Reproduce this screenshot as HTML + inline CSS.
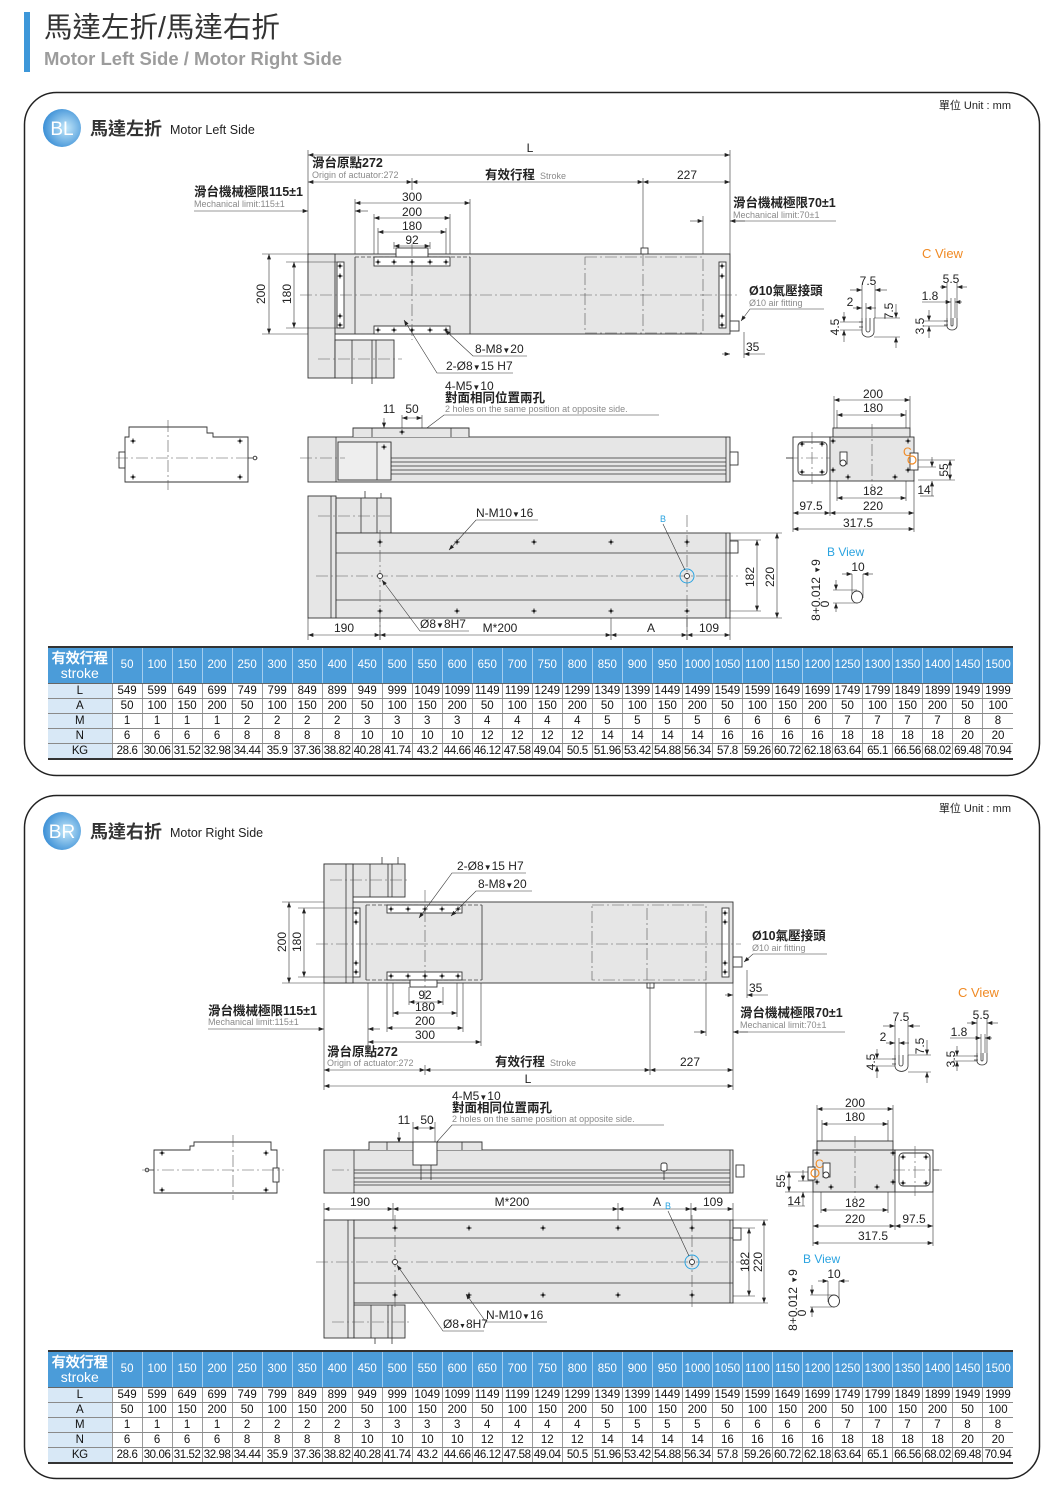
<!DOCTYPE html>
<html><head><meta charset="utf-8">
<style>
html,body{margin:0;padding:0}
body{width:1060px;height:1499px;background:#fff;position:relative;overflow:hidden;font-family:"Liberation Sans","Noto Sans CJK TC",sans-serif}
svg{position:absolute;left:0;top:0}
.o{fill:#e6e6e6;stroke:#333;stroke-width:.9}
.w{fill:#fff;stroke:#333;stroke-width:.9}
.l{fill:none;stroke:#333;stroke-width:.8}
.d{fill:none;stroke:#333;stroke-width:.6}
.c{fill:none;stroke:#555;stroke-width:.6;stroke-dasharray:12 3 2 3}
.h{fill:none;stroke:#444;stroke-width:.7;stroke-dasharray:4 2}
.dd{marker-start:url(#a);marker-end:url(#a)}
.de{marker-end:url(#a)}
.n{font-family:"Liberation Sans",sans-serif;font-size:12px;fill:#222}
.cb{font-family:"Liberation Sans","Noto Sans CJK TC",sans-serif;font-size:12.5px;font-weight:bold;fill:#222}
.g{font-family:"Liberation Sans",sans-serif;font-size:9px;fill:#8a8a8a}
.cv{font-family:"Liberation Sans",sans-serif;font-size:13px;fill:#f08a24}
.bv{font-family:"Liberation Sans",sans-serif;font-size:12px;fill:#2aa3e0}
.tb{position:absolute;left:48px;width:965px;border-collapse:collapse;table-layout:fixed;font-family:"Liberation Sans",sans-serif;font-size:11.5px;color:#111}
.tb td{padding:0;text-align:center;white-space:nowrap;overflow:hidden;border-left:1px solid #9a9a9a;border-bottom:1px solid #8a8a8a;height:14px;line-height:14px}
.tb tr.h td{background:#4b9cd9;color:#fff;height:35px;line-height:35px;border-left:1px solid #a3cdee;border-top:2px solid #333;border-bottom:1px solid #666}
.tb td.f{background:#d8e8f6;border-left:none}
.tb tr.h td.f{background:#4b9cd9;font-size:14px;line-height:15px;border-left:none}
.tb tr.k td{border-bottom:2px solid #333;letter-spacing:-.4px}
</style></head><body>
<svg width="1060" height="1499" viewBox="0 0 1060 1499" xmlns="http://www.w3.org/2000/svg">
<defs>
<marker id="a" viewBox="0 0 8 6" refX="8" refY="3" markerWidth="7" markerHeight="4" markerUnits="userSpaceOnUse" orient="auto-start-reverse"><path d="M0,0L8,3L0,6z" fill="#222"/></marker>
<radialGradient id="bg" cx="0.6" cy="0.5" r="0.6"><stop offset="0" stop-color="#c4e8fa"/><stop offset="1" stop-color="#3b8fd6"/></radialGradient>
<g id="h"><circle r="1.5" fill="#222"/><path d="M-3,0h6M0,-3v6" stroke="#222" stroke-width=".5"/></g>
</defs>

<!-- HEADER -->
<rect x="24" y="12" width="6" height="60" fill="#3d97d9"/>
<text x="44" y="37" font-size="28.5" fill="#333" font-family="Liberation Sans,Noto Sans CJK TC,sans-serif">馬達左折/馬達右折</text>
<text x="44" y="65" font-size="18.5" font-weight="bold" fill="#9c9c9c" font-family="Liberation Sans,sans-serif">Motor Left Side / Motor Right Side</text>

<!-- ================= PANEL 1 ================= -->
<rect x="24.5" y="92.5" width="1015" height="683" rx="32" fill="none" stroke="#222" stroke-width="1.5"/>
<circle cx="62" cy="128" r="19" fill="url(#bg)"/>
<text x="62" y="135" font-size="19" fill="#fff" text-anchor="middle" font-family="Liberation Sans,sans-serif">BL</text>
<text x="90" y="135" font-size="18" font-weight="bold" fill="#333" font-family="Liberation Sans,Noto Sans CJK TC,sans-serif">馬達左折</text>
<text x="170" y="134" font-size="12.5" fill="#222" font-family="Liberation Sans,sans-serif">Motor Left Side</text>
<text x="1011" y="109" text-anchor="end" font-size="11" fill="#222" font-family="Liberation Sans,Noto Sans CJK TC,sans-serif">單位 Unit : mm</text>

<!-- top view dims -->
<path class="d" d="M308,150V254M730,150V254M412,178V190M643,178V248M355,199V257M470,199V257M374,214V257M450,214V257M378,228V257M446,228V257M394,242V249M430,242V249M703,216V262"/>
<line class="d dd" x1="308" y1="155" x2="730" y2="155"/>
<line class="d dd" x1="308" y1="182" x2="412" y2="182"/>
<line class="d dd" x1="412" y1="182" x2="643" y2="182"/>
<line class="d dd" x1="643" y1="182" x2="730" y2="182"/>
<line class="d de" x1="194" y1="211" x2="308" y2="211"/>
<line class="d de" x1="368" y1="211" x2="355" y2="211"/>
<line class="d dd" x1="355" y1="203" x2="470" y2="203"/>
<line class="d dd" x1="374" y1="218" x2="450" y2="218"/>
<line class="d dd" x1="378" y1="232" x2="446" y2="232"/>
<line class="d dd" x1="394" y1="246" x2="430" y2="246"/>
<line class="d de" x1="690" y1="221" x2="703" y2="221"/>
<line class="d de" x1="745" y1="221" x2="730" y2="221"/>
<line class="d" x1="733" y1="221" x2="836" y2="221"/>
<text class="n" x="530" y="152" text-anchor="middle">L</text>
<text class="cb" x="312" y="167">滑台原點272</text>
<text class="g" x="312" y="178">Origin of actuator:272</text>
<text class="cb" x="485" y="179">有效行程</text><text class="g" x="540" y="179">Stroke</text>
<text class="n" x="687" y="179" text-anchor="middle">227</text>
<text class="cb" x="194" y="196">滑台機械極限115±1</text>
<text class="g" x="194" y="207">Mechanical limit:115±1</text>
<text class="n" x="412" y="201" text-anchor="middle">300</text>
<text class="n" x="412" y="216" text-anchor="middle">200</text>
<text class="n" x="412" y="230" text-anchor="middle">180</text>
<text class="n" x="412" y="244" text-anchor="middle">92</text>
<text class="cb" x="733" y="207">滑台機械極限70±1</text>
<text class="g" x="733" y="218">Mechanical limit:70±1</text>

<!-- top view body -->
<rect class="o" x="308" y="254" width="422" height="80"/>
<rect class="o" x="308" y="254" width="27" height="124"/>
<rect class="o" x="335" y="340" width="59" height="38"/>
<path class="l" d="M352,340V378M372,340V378M376,340V378M352,378v6M372,378v6"/>
<rect class="w" x="337" y="262" width="7" height="66"/>
<path class="l" d="M355,257V334M470,257V334"/>
<path class="h" d="M355,257H470M355,334H470"/>
<rect class="w" x="374" y="257" width="76" height="9"/>
<rect class="w" x="374" y="326" width="76" height="8"/>
<rect class="w" x="396" y="248" width="32" height="9"/>
<rect class="c" x="585" y="257" width="118" height="76"/>
<rect class="w" x="719" y="262" width="7" height="66"/>
<rect class="w" x="730" y="321" width="9" height="10"/>
<rect class="w" x="641" y="248" width="7" height="6"/>
<path class="c" d="M300,295H738M412,244V340M643,254V334M318,359H402"/>
<use href="#h" x="378" y="262"/><use href="#h" x="394" y="262"/><use href="#h" x="412" y="262"/><use href="#h" x="430" y="262"/><use href="#h" x="446" y="262"/>
<use href="#h" x="378" y="330"/><use href="#h" x="394" y="330"/><use href="#h" x="412" y="330"/><use href="#h" x="430" y="330"/><use href="#h" x="446" y="330"/>
<use href="#h" x="340" y="266"/><use href="#h" x="340" y="276"/><use href="#h" x="340" y="316"/><use href="#h" x="340" y="325"/>
<use href="#h" x="722" y="266"/><use href="#h" x="722" y="276"/><use href="#h" x="722" y="316"/><use href="#h" x="722" y="325"/>
<!-- left dims -->
<path class="d" d="M262,254H308M286,262H337M286,328H337M262,334H308"/>
<line class="d dd" x1="269" y1="254" x2="269" y2="334"/>
<line class="d dd" x1="294" y1="262" x2="294" y2="328"/>
<text class="n" transform="translate(265,294) rotate(-90)" text-anchor="middle">200</text>
<text class="n" transform="translate(291,294) rotate(-90)" text-anchor="middle">180</text>
<!-- leaders -->
<path class="d de" d="M527,356H473L445,330"/>
<path class="d de" d="M513,373H437L404,320"/>
<text class="n" x="475" y="353">8-M8<tspan font-size="8">▼</tspan>20</text>
<text class="n" x="446" y="370">2-Ø8<tspan font-size="8">▼</tspan>15 H7</text>
<!-- air fitting -->
<text class="cb" x="749" y="295">Ø10氣壓接頭</text>
<text class="g" x="749" y="306">Ø10 air fitting</text>
<path class="d de" d="M824,309H750L741,321"/>
<path class="d" d="M744,332V358"/>
<line class="d de" x1="765" y1="354" x2="744" y2="354"/>
<line class="d de" x1="722" y1="354" x2="730" y2="354"/>
<text class="n" x="746" y="351">35</text>

<!-- C View panel1 -->
<text class="cv" x="922" y="258">C View</text>
<path class="l" d="M862,318V332A6,5 0 0 0 874,332V318M866,318V330A2,2 0 0 0 870,330V318M859,322h4M859,327h4"/>
<path class="l" d="M947,318V326A5,4 0 0 0 957,326V318M951,318V325A1,1 0 0 0 953,325V318M944,321h4M944,325h4"/>
<path class="d" d="M862,285V318M875,285V318M866,303V318M874,337H900M874,318H900M840,322H862M840,330H862M947,283V318M957,283V318M951,298V318M955,298V318M924,321H947M924,326H947"/>
<line class="d de" x1="850" y1="290" x2="862" y2="290"/><line class="d de" x1="887" y1="290" x2="875" y2="290"/>
<line class="d de" x1="853" y1="308" x2="862" y2="308"/><line class="d de" x1="876" y1="308" x2="866" y2="308"/>
<line class="d de" x1="896" y1="304" x2="896" y2="318"/><line class="d de" x1="896" y1="348" x2="896" y2="337"/>
<line class="d de" x1="844" y1="312" x2="844" y2="322"/><line class="d de" x1="844" y1="342" x2="844" y2="330"/>
<line class="d de" x1="940" y1="287" x2="947" y2="287"/><line class="d de" x1="967" y1="287" x2="957" y2="287"/>
<line class="d de" x1="922" y1="302" x2="951" y2="302"/><line class="d de" x1="962" y1="302" x2="955" y2="302"/>
<line class="d de" x1="929" y1="310" x2="929" y2="321"/><line class="d de" x1="929" y1="338" x2="929" y2="326"/>
<text class="n" x="868" y="285" text-anchor="middle">7.5</text>
<text class="n" x="850" y="306" text-anchor="middle">2</text>
<text class="n" transform="translate(893,311) rotate(-90)" text-anchor="middle">7.5</text>
<text class="n" transform="translate(839,327) rotate(-90)" text-anchor="middle">4.5</text>
<text class="n" x="951" y="283" text-anchor="middle">5.5</text>
<text class="n" x="930" y="300" text-anchor="middle">1.8</text>
<text class="n" transform="translate(924,326) rotate(-90)" text-anchor="middle">3.5</text>

<!-- middle row panel1 -->
<text class="n" x="445" y="390">4-M5<tspan font-size="8">▼</tspan>10</text>
<text class="cb" x="445" y="402">對面相同位置兩孔</text>
<text class="g" x="445" y="412">2 holes on the same position at opposite side.</text>
<path class="d de" d="M659,415H444L411,440"/>
<text class="n" x="389" y="413" text-anchor="middle">11</text>
<text class="n" x="412" y="413" text-anchor="middle">50</text>
<path class="d" d="M402,415V437M422,415V437"/>
<line class="d dd" x1="402" y1="418" x2="422" y2="418"/>
<line class="d de" x1="384" y1="418" x2="384" y2="428"/><line class="d de" x1="384" y1="448" x2="384" y2="437"/>
<!-- left end view -->
<path class="w" d="M125,437H129V427H207V433H213V437H248V482H125Z"/>
<rect class="w" x="119" y="452" width="6" height="16"/>
<path class="l" d="M248,458h6"/><circle cx="255" cy="458" r="1.8" class="w"/>
<path class="c" d="M168,420V490M116,458H258"/>
<use href="#h" x="133" y="441"/><use href="#h" x="240" y="441"/><use href="#h" x="133" y="477"/><use href="#h" x="240" y="477"/>
<!-- side view -->
<rect class="o" x="308" y="437" width="422" height="45"/>
<path class="o" d="M353,437V428H469V437"/>
<path class="l" d="M372,428V437M451,428V437M336,437V482M391,442V480M377,442V480M726,437V482"/>
<rect class="w" x="338" y="442" width="53" height="38" style="fill:#eee"/>
<path class="l" d="M377,442V480M391,458H726M391,462H726M391,466H726M391,470H726M391,474H726"/>
<rect class="w" x="730" y="452" width="8" height="13"/>
<path class="c" d="M300,458H345"/>
<use href="#h" x="402" y="432"/><use href="#h" x="384" y="447"/>
<!-- right end view -->
<rect class="w" x="793" y="437" width="37" height="44"/>
<rect class="w" x="798" y="442" width="29" height="33" rx="4"/>
<rect class="o" x="830" y="437" width="84" height="44"/>
<rect class="o" x="833" y="428" width="77" height="9"/>
<path class="c" d="M812,432V486M786,458H830M872,424V486"/>
<path class="l" d="M786,458h7"/>
<rect class="w" x="840" y="452" width="7" height="12"/>
<circle cx="843" cy="463" r="3" class="w"/>
<rect class="w" x="910" y="453" width="8" height="17"/>
<circle cx="912" cy="460" r="4" fill="none" stroke="#f08a24" stroke-width="1.2"/>
<text x="903" y="456" font-size="12" fill="#f08a24" font-family="Liberation Sans,sans-serif">C</text>
<use href="#h" x="833" y="441"/><use href="#h" x="908" y="441"/><use href="#h" x="833" y="470"/><use href="#h" x="908" y="470"/><use href="#h" x="848" y="477"/><use href="#h" x="895" y="477"/>
<use href="#h" x="802" y="444"/><use href="#h" x="822" y="444"/><use href="#h" x="802" y="472"/><use href="#h" x="822" y="472"/>
<path class="d" d="M834,396V428M910,396V428M837,410V428M906,410V428M793,481V532M830,481V516M914,481V532M837,481V501M906,481V501M918,460H955M918,480H955M918,467H936"/>
<line class="d dd" x1="834" y1="400" x2="910" y2="400"/>
<line class="d dd" x1="837" y1="415" x2="906" y2="415"/>
<line class="d dd" x1="837" y1="498" x2="906" y2="498"/>
<line class="d dd" x1="793" y1="513" x2="830" y2="513"/>
<line class="d dd" x1="830" y1="513" x2="914" y2="513"/>
<line class="d dd" x1="793" y1="529" x2="914" y2="529"/>
<line class="d dd" x1="950" y1="460" x2="950" y2="480"/>
<line class="d de" x1="932" y1="496" x2="932" y2="481"/><line class="d de" x1="932" y1="457" x2="932" y2="467"/>
<path class="d" d="M920,496H934"/>
<text class="n" x="873" y="398" text-anchor="middle">200</text>
<text class="n" x="873" y="412" text-anchor="middle">180</text>
<text class="n" x="873" y="495" text-anchor="middle">182</text>
<text class="n" x="873" y="510" text-anchor="middle">220</text>
<text class="n" x="811" y="510" text-anchor="middle">97.5</text>
<text class="n" x="858" y="527" text-anchor="middle">317.5</text>
<text class="n" transform="translate(948,470) rotate(-90)" text-anchor="middle">55</text>
<text class="n" x="924" y="494" text-anchor="middle">14</text>

<!-- bottom view panel1 -->
<rect class="o" x="308" y="496" width="28" height="122"/>
<rect class="o" x="336" y="498" width="55" height="35"/>
<path class="l" d="M361,498V533M377,498V533M365,491v7M381,493v5"/>
<rect class="o" x="336" y="533" width="394" height="85"/>
<path class="l" d="M336,553H730M336,600H730M331,496V618M726,533V618"/>
<rect class="w" x="730" y="541" width="8" height="12"/>
<path class="c" d="M316,576H738M380,530V640M687,515V640M318,516H392"/>
<use href="#h" x="380" y="542"/><use href="#h" x="457" y="542"/><use href="#h" x="534" y="542"/><use href="#h" x="611" y="542"/><use href="#h" x="687" y="542"/>
<use href="#h" x="380" y="611"/><use href="#h" x="457" y="611"/><use href="#h" x="534" y="611"/><use href="#h" x="611" y="611"/><use href="#h" x="687" y="611"/>
<circle cx="380" cy="576" r="2.5" class="w"/>
<circle cx="687" cy="576" r="7" fill="none" stroke="#2aa3e0" stroke-width="1"/><circle cx="687" cy="576" r="2.5" class="w"/>
<text x="660" y="522" font-size="9" fill="#2aa3e0" font-family="Liberation Sans,sans-serif">B</text>
<path class="d" d="M663,524L685,570"/>
<text class="n" x="476" y="517">N-M10<tspan font-size="8">▼</tspan>16</text>
<path class="d de" d="M538,520H476L449,550"/>
<text class="n" x="420" y="628" font-size="11">Ø8<tspan font-size="8">▼</tspan>8H7</text>
<path class="d de" d="M469,631H420L382,580"/>
<path class="d" d="M308,618V640M380,618V640M611,618V640M687,618V640M730,618V640M730,533H782M730,618H782M730,540H761M730,611H761"/>
<line class="d dd" x1="308" y1="635" x2="380" y2="635"/>
<line class="d dd" x1="380" y1="635" x2="611" y2="635"/>
<line class="d dd" x1="611" y1="635" x2="687" y2="635"/>
<line class="d dd" x1="687" y1="635" x2="730" y2="635"/>
<text class="n" x="344" y="632" text-anchor="middle">190</text>
<text class="n" x="500" y="632" text-anchor="middle">M*200</text>
<text class="n" x="651" y="632" text-anchor="middle">A</text>
<text class="n" x="709" y="632" text-anchor="middle">109</text>
<line class="d dd" x1="757" y1="540" x2="757" y2="611"/>
<line class="d dd" x1="777" y1="533" x2="777" y2="618"/>
<text class="n" transform="translate(754,577) rotate(-90)" text-anchor="middle">182</text>
<text class="n" transform="translate(774,577) rotate(-90)" text-anchor="middle">220</text>
<!-- B view p1 -->
<text class="bv" x="827" y="556">B View</text>
<text class="n" x="858" y="571" text-anchor="middle">10</text>
<path class="d" d="M852,574V598M863,574V598M833,590H857M833,603H857"/>
<line class="d de" x1="842" y1="574" x2="852" y2="574"/><line class="d de" x1="873" y1="574" x2="863" y2="574"/>
<ellipse cx="857" cy="597" rx="5.5" ry="6" class="w"/>
<line class="d de" x1="836" y1="580" x2="836" y2="590"/><line class="d de" x1="836" y1="612" x2="836" y2="603"/>
<text class="n" font-size="11" transform="translate(820,590) rotate(-90)" text-anchor="middle">8+0.012 <tspan font-size="8">▼</tspan>9</text>
<text class="n" font-size="11" transform="translate(829,604) rotate(-90)" text-anchor="middle">0</text>

<!-- ================= PANEL 2 ================= -->
<rect x="24.5" y="795.5" width="1015" height="683" rx="32" fill="none" stroke="#222" stroke-width="1.5"/>
<circle cx="62" cy="831" r="19" fill="url(#bg)"/>
<text x="62" y="838" font-size="19" fill="#fff" text-anchor="middle" font-family="Liberation Sans,sans-serif">BR</text>
<text x="90" y="838" font-size="18" font-weight="bold" fill="#333" font-family="Liberation Sans,Noto Sans CJK TC,sans-serif">馬達右折</text>
<text x="170" y="837" font-size="12.5" fill="#222" font-family="Liberation Sans,sans-serif">Motor Right Side</text>
<text x="1011" y="812" text-anchor="end" font-size="11" fill="#222" font-family="Liberation Sans,Noto Sans CJK TC,sans-serif">單位 Unit : mm</text>

<!-- top view p2 body -->
<rect class="o" x="324" y="864" width="29" height="119"/>
<rect class="o" x="353" y="864" width="52" height="33"/>
<path class="l" d="M370,864V897M388,864V897M392,864V897M382,857v7M398,857v7"/>
<rect class="o" x="324" y="902" width="409" height="81"/>
<rect class="o" x="324" y="864" width="29" height="119"/>
<path class="l" d="M346,864V983"/>
<rect class="w" x="353" y="908" width="7" height="69"/>
<path class="l" d="M366,905V980M482,905V980"/>
<path class="h" d="M366,905H482M366,980H482"/>
<rect class="w" x="387" y="905" width="75" height="8"/>
<rect class="w" x="387" y="972" width="75" height="8"/>
<rect class="w" x="410" y="980" width="27" height="7"/>
<rect class="c" x="592" y="905" width="114" height="75"/>
<rect class="w" x="722" y="908" width="7" height="69"/>
<rect class="w" x="733" y="957" width="9" height="10"/>
<rect class="w" x="647" y="983" width="7" height="5"/>
<path class="c" d="M316,944H741M425,890V1000M647,908V983M330,880H410"/>
<use href="#h" x="391" y="909"/><use href="#h" x="408" y="909"/><use href="#h" x="425" y="909"/><use href="#h" x="442" y="909"/><use href="#h" x="458" y="909"/>
<use href="#h" x="391" y="976"/><use href="#h" x="408" y="976"/><use href="#h" x="425" y="976"/><use href="#h" x="442" y="976"/><use href="#h" x="458" y="976"/>
<use href="#h" x="356" y="913"/><use href="#h" x="356" y="922"/><use href="#h" x="356" y="963"/><use href="#h" x="356" y="972"/>
<use href="#h" x="725" y="913"/><use href="#h" x="725" y="922"/><use href="#h" x="725" y="963"/><use href="#h" x="725" y="972"/>
<!-- left dims p2 -->
<path class="d" d="M282,902H324M298,908H353M298,977H353M282,983H324"/>
<line class="d dd" x1="289" y1="902" x2="289" y2="983"/>
<line class="d dd" x1="304" y1="908" x2="304" y2="977"/>
<text class="n" transform="translate(286,942) rotate(-90)" text-anchor="middle">200</text>
<text class="n" transform="translate(301,942) rotate(-90)" text-anchor="middle">180</text>
<!-- leaders p2 -->
<text class="n" x="457" y="870">2-Ø8<tspan font-size="8">▼</tspan>15 H7</text>
<path class="d de" d="M526,873H452L419,918"/>
<text class="n" x="478" y="888">8-M8<tspan font-size="8">▼</tspan>20</text>
<path class="d de" d="M532,891H476L451,916"/>
<!-- air fitting p2 -->
<text class="cb" x="752" y="940">Ø10氣壓接頭</text>
<text class="g" x="752" y="951">Ø10 air fitting</text>
<path class="d de" d="M827,954H753L744,962"/>
<path class="d" d="M747,970V998"/>
<line class="d de" x1="768" y1="995" x2="747" y2="995"/>
<line class="d de" x1="725" y1="995" x2="733" y2="995"/>
<text class="n" x="749" y="992">35</text>
<!-- bottom dims p2 -->
<path class="d" d="M324,983V1090M733,983V1090M368,983V1046M481,983V1046M387,983V1032M463,983V1032M393,983V1017M457,983V1017M409,987V1005M443,987V1005M425,1065V1075M650,983V1075M706,983V1036"/>
<line class="d dd" x1="409" y1="1002" x2="443" y2="1002"/>
<line class="d dd" x1="393" y1="1013" x2="457" y2="1013"/>
<line class="d dd" x1="387" y1="1028" x2="463" y2="1028"/>
<line class="d dd" x1="368" y1="1042" x2="481" y2="1042"/>
<text class="n" x="425" y="999" text-anchor="middle">92</text>
<text class="n" x="425" y="1011" text-anchor="middle">180</text>
<text class="n" x="425" y="1025" text-anchor="middle">200</text>
<text class="n" x="425" y="1039" text-anchor="middle">300</text>
<text class="cb" x="208" y="1015">滑台機械極限115±1</text>
<text class="g" x="208" y="1025">Mechanical limit:115±1</text>
<line class="d de" x1="208" y1="1029" x2="324" y2="1029"/>
<line class="d de" x1="380" y1="1029" x2="368" y2="1029"/>
<text class="cb" x="740" y="1017">滑台機械極限70±1</text>
<text class="g" x="740" y="1028">Mechanical limit:70±1</text>
<line class="d" x1="740" y1="1032" x2="845" y2="1032"/>
<line class="d de" x1="694" y1="1032" x2="706" y2="1032"/>
<line class="d de" x1="748" y1="1032" x2="733" y2="1032"/>
<text class="cb" x="327" y="1056">滑台原點272</text>
<text class="g" x="327" y="1066">Origin of actuator:272</text>
<line class="d dd" x1="324" y1="1070" x2="425" y2="1070"/>
<line class="d dd" x1="425" y1="1070" x2="650" y2="1070"/>
<line class="d dd" x1="650" y1="1070" x2="733" y2="1070"/>
<text class="cb" x="495" y="1066">有效行程</text><text class="g" x="550" y="1066">Stroke</text>
<text class="n" x="690" y="1066" text-anchor="middle">227</text>
<line class="d dd" x1="324" y1="1086" x2="733" y2="1086"/>
<text class="n" x="528" y="1083" text-anchor="middle">L</text>

<!-- C View p2 -->
<text class="cv" x="958" y="997">C View</text>
<path class="l" d="M895,1055V1066A6,5 0 0 0 908,1066V1055M899,1055V1064A2,2 0 0 0 903,1064V1055M892,1059h4M892,1064h4"/>
<path class="l" d="M977,1053V1061A5,4 0 0 0 987,1061V1053M981,1053V1060A1,1 0 0 0 983,1060V1053M974,1056h4M974,1060h4"/>
<path class="d" d="M895,1021V1055M908,1021V1055M899,1038V1055M908,1072H931M908,1055H931M873,1059H895M873,1066H895M977,1018V1053M987,1018V1053M981,1034V1053M985,1034V1053M953,1056H977M953,1061H977"/>
<line class="d de" x1="883" y1="1026" x2="895" y2="1026"/><line class="d de" x1="920" y1="1026" x2="908" y2="1026"/>
<line class="d de" x1="886" y1="1043" x2="895" y2="1043"/><line class="d de" x1="909" y1="1043" x2="899" y2="1043"/>
<line class="d de" x1="927" y1="1040" x2="927" y2="1055"/><line class="d de" x1="927" y1="1083" x2="927" y2="1072"/>
<line class="d de" x1="877" y1="1049" x2="877" y2="1059"/><line class="d de" x1="877" y1="1078" x2="877" y2="1066"/>
<line class="d de" x1="967" y1="1023" x2="977" y2="1023"/><line class="d de" x1="998" y1="1023" x2="987" y2="1023"/>
<line class="d de" x1="950" y1="1038" x2="981" y2="1038"/><line class="d de" x1="992" y1="1038" x2="985" y2="1038"/>
<line class="d de" x1="957" y1="1046" x2="957" y2="1056"/><line class="d de" x1="957" y1="1071" x2="957" y2="1061"/>
<text class="n" x="901" y="1021" text-anchor="middle">7.5</text>
<text class="n" x="883" y="1041" text-anchor="middle">2</text>
<text class="n" transform="translate(924,1046) rotate(-90)" text-anchor="middle">7.5</text>
<text class="n" transform="translate(875,1062) rotate(-90)" text-anchor="middle">4.5</text>
<text class="n" x="981" y="1019" text-anchor="middle">5.5</text>
<text class="n" x="959" y="1036" text-anchor="middle">1.8</text>
<text class="n" transform="translate(955,1059) rotate(-90)" text-anchor="middle">3.5</text>

<!-- middle p2 -->
<text class="n" x="452" y="1100">4-M5<tspan font-size="8">▼</tspan>10</text>
<text class="cb" x="452" y="1112">對面相同位置兩孔</text>
<text class="g" x="452" y="1122">2 holes on the same position at opposite side.</text>
<path class="d de" d="M664,1125H452L427,1153"/>
<text class="n" x="404" y="1124" text-anchor="middle">11</text>
<text class="n" x="427" y="1124" text-anchor="middle">50</text>
<path class="d" d="M413,1122V1150M435,1122V1150"/>
<line class="d dd" x1="413" y1="1128" x2="435" y2="1128"/>
<line class="d de" x1="399" y1="1132" x2="399" y2="1143"/><line class="d de" x1="399" y1="1163" x2="399" y2="1152"/>
<!-- left end view p2 -->
<path class="w" d="M154,1150H190V1146H194V1142H271V1150H277V1193H154Z"/>
<rect class="w" x="273" y="1168" width="6" height="14"/>
<path class="l" d="M148,1170h6"/><circle cx="147" cy="1170" r="1.8" class="w"/>
<path class="c" d="M233,1135V1200M142,1170H284"/>
<use href="#h" x="162" y="1153"/><use href="#h" x="266" y="1153"/><use href="#h" x="162" y="1190"/><use href="#h" x="266" y="1190"/>
<!-- side view p2 -->
<rect class="o" x="324" y="1150" width="409" height="43"/>
<path class="o" d="M369,1150V1142H482V1150"/>
<path class="l" d="M387,1142V1150M462,1142V1150M354,1150V1193M730,1150V1193M354,1170H730M354,1173H730M354,1178H730M354,1182H730M354,1185H730"/>
<rect class="w" x="413" y="1142" width="24" height="23"/>
<path class="l" d="M421,1165V1180M431,1165V1180M664,1165V1180"/>
<rect class="w" x="661" y="1163" width="6" height="8" rx="2"/>
<rect class="w" x="736" y="1165" width="8" height="12"/>
<path class="c" d="M332,1170H352"/>
<!-- right end view p2 -->
<rect class="o" x="813" y="1150" width="82" height="42"/>
<rect class="o" x="817" y="1141" width="76" height="9"/>
<rect class="w" x="895" y="1150" width="38" height="42"/>
<rect class="w" x="899" y="1153" width="31" height="33" rx="4"/>
<path class="c" d="M855,1136V1198M915,1146V1196M893,1170H942"/>
<path class="l" d="M933,1170h6"/>
<rect class="w" x="823" y="1163" width="7" height="14"/>
<circle cx="826" cy="1175" r="3" class="w"/>
<rect class="w" x="808" y="1167" width="7" height="13"/>
<circle cx="815" cy="1173" r="4" fill="none" stroke="#f08a24" stroke-width="1.2"/>
<text x="815" y="1168" font-size="12" fill="#f08a24" font-family="Liberation Sans,sans-serif">C</text>
<use href="#h" x="817" y="1153"/><use href="#h" x="893" y="1153"/><use href="#h" x="817" y="1182"/><use href="#h" x="893" y="1182"/><use href="#h" x="831" y="1187"/><use href="#h" x="877" y="1187"/>
<use href="#h" x="903" y="1157"/><use href="#h" x="926" y="1157"/><use href="#h" x="903" y="1183"/><use href="#h" x="926" y="1183"/>
<path class="d" d="M817,1105V1141M893,1105V1141M822,1120V1141M888,1120V1141M813,1192V1246M895,1192V1230M933,1192V1246M821,1192V1213M888,1192V1213M785,1172H808M785,1192H813M798,1181H813"/>
<line class="d dd" x1="817" y1="1109" x2="893" y2="1109"/>
<line class="d dd" x1="822" y1="1124" x2="888" y2="1124"/>
<line class="d dd" x1="821" y1="1210" x2="888" y2="1210"/>
<line class="d dd" x1="813" y1="1226" x2="895" y2="1226"/>
<line class="d dd" x1="895" y1="1226" x2="933" y2="1226"/>
<line class="d dd" x1="813" y1="1243" x2="933" y2="1243"/>
<line class="d dd" x1="789" y1="1172" x2="789" y2="1192"/>
<line class="d de" x1="803" y1="1206" x2="803" y2="1192"/><line class="d de" x1="803" y1="1170" x2="803" y2="1181"/>
<path class="d" d="M788,1206H805"/>
<text class="n" x="855" y="1107" text-anchor="middle">200</text>
<text class="n" x="855" y="1121" text-anchor="middle">180</text>
<text class="n" x="855" y="1207" text-anchor="middle">182</text>
<text class="n" x="855" y="1223" text-anchor="middle">220</text>
<text class="n" x="914" y="1223" text-anchor="middle">97.5</text>
<text class="n" x="873" y="1240" text-anchor="middle">317.5</text>
<text class="n" transform="translate(785,1181) rotate(-90)" text-anchor="middle">55</text>
<text class="n" x="794" y="1205" text-anchor="middle">14</text>

<!-- bottom view p2 -->
<path class="d" d="M324,1203V1220M393,1203V1220M618,1203V1220M691,1203V1220M733,1203V1220"/>
<line class="d dd" x1="324" y1="1209" x2="393" y2="1209"/>
<line class="d dd" x1="393" y1="1209" x2="618" y2="1209"/>
<line class="d dd" x1="618" y1="1209" x2="691" y2="1209"/>
<line class="d dd" x1="691" y1="1209" x2="733" y2="1209"/>
<text class="n" x="360" y="1206" text-anchor="middle">190</text>
<text class="n" x="512" y="1206" text-anchor="middle">M*200</text>
<text class="n" x="657" y="1206" text-anchor="middle">A</text>
<text x="665" y="1209" font-size="9" fill="#2aa3e0" font-family="Liberation Sans,sans-serif">B</text>
<text class="n" x="713" y="1206" text-anchor="middle">109</text>
<rect class="o" x="324" y="1220" width="30" height="118"/>
<rect class="o" x="354" y="1220" width="379" height="83"/>
<rect class="o" x="354" y="1305" width="51" height="33"/>
<path class="l" d="M371,1305V1338M388,1305V1338M392,1305V1338M375,1338v6M392,1338v6M348,1220V1338M354,1238H733M354,1283H733M730,1220V1303"/>
<rect class="w" x="733" y="1228" width="8" height="12"/>
<path class="c" d="M316,1262H741M395,1215V1310M692,1215V1310M332,1322H410"/>
<use href="#h" x="395" y="1228"/><use href="#h" x="469" y="1228"/><use href="#h" x="543" y="1228"/><use href="#h" x="618" y="1228"/><use href="#h" x="692" y="1228"/>
<use href="#h" x="395" y="1295"/><use href="#h" x="469" y="1295"/><use href="#h" x="543" y="1295"/><use href="#h" x="618" y="1295"/><use href="#h" x="692" y="1295"/>
<circle cx="395" cy="1262" r="2.5" class="w"/>
<circle cx="692" cy="1262" r="7" fill="none" stroke="#2aa3e0" stroke-width="1"/><circle cx="692" cy="1262" r="2.5" class="w"/>
<path class="d" d="M668,1211L689,1256"/>
<text class="n" x="486" y="1319">N-M10<tspan font-size="8">▼</tspan>16</text>
<path class="d de" d="M547,1322H486L466,1294"/>
<text class="n" x="443" y="1328" font-size="10">Ø8<tspan font-size="7">▼</tspan>8H7</text>
<path class="d de" d="M484,1331H443L397,1265"/>
<path class="d" d="M733,1220H768M733,1303H768M733,1228H755M733,1296H755"/>
<line class="d dd" x1="749" y1="1228" x2="749" y2="1296"/>
<line class="d dd" x1="764" y1="1220" x2="764" y2="1303"/>
<text class="n" transform="translate(749,1262) rotate(-90)" text-anchor="middle">182</text>
<text class="n" transform="translate(762,1262) rotate(-90)" text-anchor="middle">220</text>
<!-- B view p2 -->
<text class="bv" x="803" y="1263">B View</text>
<text class="n" x="834" y="1278" text-anchor="middle">10</text>
<path class="d" d="M828,1281V1302M839,1281V1302M810,1295H834M810,1307H834"/>
<line class="d de" x1="818" y1="1281" x2="828" y2="1281"/><line class="d de" x1="849" y1="1281" x2="839" y2="1281"/>
<ellipse cx="834" cy="1301" rx="5.5" ry="6" class="w"/>
<line class="d de" x1="812" y1="1285" x2="812" y2="1295"/><line class="d de" x1="812" y1="1317" x2="812" y2="1307"/>
<text class="n" font-size="11" transform="translate(797,1300) rotate(-90)" text-anchor="middle">8+0.012 <tspan font-size="8">▼</tspan>9</text>
<text class="n" font-size="11" transform="translate(806,1313) rotate(-90)" text-anchor="middle">0</text>
</svg>

<table class="tb" style="top:646px">
<colgroup><col style="width:64px"><col span="30" style="width:30px"></colgroup>
<tr class="h"><td class="f"><b>有效行程</b><br>stroke</td><td>50</td><td>100</td><td>150</td><td>200</td><td>250</td><td>300</td><td>350</td><td>400</td><td>450</td><td>500</td><td>550</td><td>600</td><td>650</td><td>700</td><td>750</td><td>800</td><td>850</td><td>900</td><td>950</td><td>1000</td><td>1050</td><td>1100</td><td>1150</td><td>1200</td><td>1250</td><td>1300</td><td>1350</td><td>1400</td><td>1450</td><td>1500</td></tr>
<tr><td class="f">L</td><td>549</td><td>599</td><td>649</td><td>699</td><td>749</td><td>799</td><td>849</td><td>899</td><td>949</td><td>999</td><td>1049</td><td>1099</td><td>1149</td><td>1199</td><td>1249</td><td>1299</td><td>1349</td><td>1399</td><td>1449</td><td>1499</td><td>1549</td><td>1599</td><td>1649</td><td>1699</td><td>1749</td><td>1799</td><td>1849</td><td>1899</td><td>1949</td><td>1999</td></tr>
<tr><td class="f">A</td><td>50</td><td>100</td><td>150</td><td>200</td><td>50</td><td>100</td><td>150</td><td>200</td><td>50</td><td>100</td><td>150</td><td>200</td><td>50</td><td>100</td><td>150</td><td>200</td><td>50</td><td>100</td><td>150</td><td>200</td><td>50</td><td>100</td><td>150</td><td>200</td><td>50</td><td>100</td><td>150</td><td>200</td><td>50</td><td>100</td></tr>
<tr><td class="f">M</td><td>1</td><td>1</td><td>1</td><td>1</td><td>2</td><td>2</td><td>2</td><td>2</td><td>3</td><td>3</td><td>3</td><td>3</td><td>4</td><td>4</td><td>4</td><td>4</td><td>5</td><td>5</td><td>5</td><td>5</td><td>6</td><td>6</td><td>6</td><td>6</td><td>7</td><td>7</td><td>7</td><td>7</td><td>8</td><td>8</td></tr>
<tr><td class="f">N</td><td>6</td><td>6</td><td>6</td><td>6</td><td>8</td><td>8</td><td>8</td><td>8</td><td>10</td><td>10</td><td>10</td><td>10</td><td>12</td><td>12</td><td>12</td><td>12</td><td>14</td><td>14</td><td>14</td><td>14</td><td>16</td><td>16</td><td>16</td><td>16</td><td>18</td><td>18</td><td>18</td><td>18</td><td>20</td><td>20</td></tr>
<tr class="k"><td class="f">KG</td><td>28.6</td><td>30.06</td><td>31.52</td><td>32.98</td><td>34.44</td><td>35.9</td><td>37.36</td><td>38.82</td><td>40.28</td><td>41.74</td><td>43.2</td><td>44.66</td><td>46.12</td><td>47.58</td><td>49.04</td><td>50.5</td><td>51.96</td><td>53.42</td><td>54.88</td><td>56.34</td><td>57.8</td><td>59.26</td><td>60.72</td><td>62.18</td><td>63.64</td><td>65.1</td><td>66.56</td><td>68.02</td><td>69.48</td><td>70.94</td></tr>
</table>

<table class="tb" style="top:1350px">
<colgroup><col style="width:64px"><col span="30" style="width:30px"></colgroup>
<tr class="h"><td class="f"><b>有效行程</b><br>stroke</td><td>50</td><td>100</td><td>150</td><td>200</td><td>250</td><td>300</td><td>350</td><td>400</td><td>450</td><td>500</td><td>550</td><td>600</td><td>650</td><td>700</td><td>750</td><td>800</td><td>850</td><td>900</td><td>950</td><td>1000</td><td>1050</td><td>1100</td><td>1150</td><td>1200</td><td>1250</td><td>1300</td><td>1350</td><td>1400</td><td>1450</td><td>1500</td></tr>
<tr><td class="f">L</td><td>549</td><td>599</td><td>649</td><td>699</td><td>749</td><td>799</td><td>849</td><td>899</td><td>949</td><td>999</td><td>1049</td><td>1099</td><td>1149</td><td>1199</td><td>1249</td><td>1299</td><td>1349</td><td>1399</td><td>1449</td><td>1499</td><td>1549</td><td>1599</td><td>1649</td><td>1699</td><td>1749</td><td>1799</td><td>1849</td><td>1899</td><td>1949</td><td>1999</td></tr>
<tr><td class="f">A</td><td>50</td><td>100</td><td>150</td><td>200</td><td>50</td><td>100</td><td>150</td><td>200</td><td>50</td><td>100</td><td>150</td><td>200</td><td>50</td><td>100</td><td>150</td><td>200</td><td>50</td><td>100</td><td>150</td><td>200</td><td>50</td><td>100</td><td>150</td><td>200</td><td>50</td><td>100</td><td>150</td><td>200</td><td>50</td><td>100</td></tr>
<tr><td class="f">M</td><td>1</td><td>1</td><td>1</td><td>1</td><td>2</td><td>2</td><td>2</td><td>2</td><td>3</td><td>3</td><td>3</td><td>3</td><td>4</td><td>4</td><td>4</td><td>4</td><td>5</td><td>5</td><td>5</td><td>5</td><td>6</td><td>6</td><td>6</td><td>6</td><td>7</td><td>7</td><td>7</td><td>7</td><td>8</td><td>8</td></tr>
<tr><td class="f">N</td><td>6</td><td>6</td><td>6</td><td>6</td><td>8</td><td>8</td><td>8</td><td>8</td><td>10</td><td>10</td><td>10</td><td>10</td><td>12</td><td>12</td><td>12</td><td>12</td><td>14</td><td>14</td><td>14</td><td>14</td><td>16</td><td>16</td><td>16</td><td>16</td><td>18</td><td>18</td><td>18</td><td>18</td><td>20</td><td>20</td></tr>
<tr class="k"><td class="f">KG</td><td>28.6</td><td>30.06</td><td>31.52</td><td>32.98</td><td>34.44</td><td>35.9</td><td>37.36</td><td>38.82</td><td>40.28</td><td>41.74</td><td>43.2</td><td>44.66</td><td>46.12</td><td>47.58</td><td>49.04</td><td>50.5</td><td>51.96</td><td>53.42</td><td>54.88</td><td>56.34</td><td>57.8</td><td>59.26</td><td>60.72</td><td>62.18</td><td>63.64</td><td>65.1</td><td>66.56</td><td>68.02</td><td>69.48</td><td>70.94</td></tr>
</table>
</body></html>
